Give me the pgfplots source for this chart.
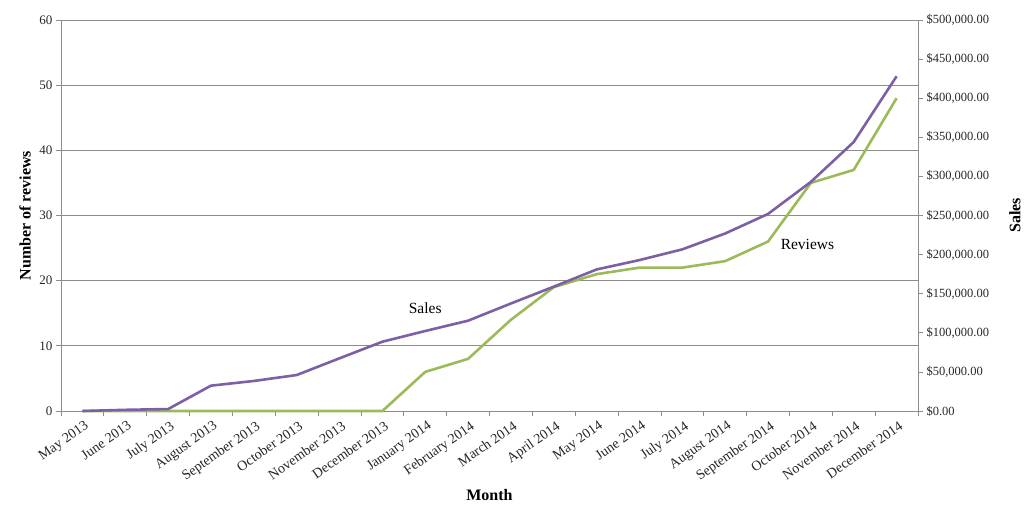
\documentclass[border=0pt]{standalone}
\usepackage{fontspec}
\setmainfont{Liberation Serif}
\usepackage{pgfplots}
\pgfplotsset{compat=1.18}

\definecolor{salespurple}{HTML}{7D5FA5}
\definecolor{revgreen}{HTML}{9BBB59}
\definecolor{gridgray}{HTML}{8C8C8C}

\pgfplotstableread{
idx reviews sales
0  0  0
1  0  1500
2  0  2500
3  0  32400
4  0  38400
5  0  46000
6  0  67400
7  0  88600
8  6  102300
9  8  115500
10 14 137500
11 19 159000
12 21 181000
13 22 193000
14 22 206700
15 23 227000
16 26 252000
17 35 293000
18 37 344000
19 48 428000
}\datatable

\begin{document}
\begin{tikzpicture}
\begin{axis}[
  scale only axis, width=857pt, height=391pt,
  xmin=-0.5, xmax=19.5, ymin=0, ymax=60,
  ytick={0,10,...,60},
  xtick={0,...,19},
  xticklabels={May 2013, June 2013, July 2013, August 2013, September 2013, October 2013, November 2013, December 2013, January 2014, February 2014, March 2014, April 2014, May 2014, June 2014, July 2014, August 2014, September 2014, October 2014, November 2014, December 2014},
  minor xtick={-0.5,0.5,...,19.5},
  major x tick style={draw=none},
  minor x tick style={gridgray, line width=0.8pt},
  ytick style={gridgray, line width=0.8pt},
  axis x line*=bottom, axis y line*=left,
  axis line style={gridgray, line width=0.8pt},
  ymajorgrids, grid style={gridgray, line width=0.8pt},
  tick align=outside,
  major tick length=5pt, minor tick length=5pt,
  /pgf/number format/assume math mode=true,
  yticklabel style={font=\fontsize{13}{15}\selectfont, text=black!85},
  xticklabel style={font=\fontsize{14}{16}\selectfont, text=black!85, rotate=35, anchor=north east, inner sep=1pt, yshift=-3pt},
  clip=false,
]
\addplot[revgreen, line width=2.6pt] table[x=idx, y=reviews] {\datatable};
\coordinate (SW) at (rel axis cs:0,0);
\node[font=\fontsize{15.5}{17}\selectfont] at (axis cs:8,15.8) {Sales};
\node[font=\fontsize{15.5}{17}\selectfont] at (axis cs:16.92,25.5) {Reviews};
\node[font=\bfseries\fontsize{16}{18}\selectfont, rotate=90] at ([xshift=-36pt]rel axis cs:0,0.5) {Number of reviews};
\node[font=\bfseries\fontsize{16}{18}\selectfont] at ([yshift=-84pt]rel axis cs:0.5,0) {Month};
\node[font=\bfseries\fontsize{16}{18}\selectfont, rotate=90] at ([xshift=97pt]rel axis cs:1,0.5) {Sales};
\end{axis}
\begin{axis}[
  scale only axis, width=857pt, height=391pt,
  xmin=-0.5, xmax=19.5, ymin=0, ymax=500000,
  axis y line*=right, axis x line=none,
  ytick={0,50000,...,500000},
  yticklabels={{\$0.00},{\$50,000.00},{\$100,000.00},{\$150,000.00},{\$200,000.00},{\$250,000.00},{\$300,000.00},{\$350,000.00},{\$400,000.00},{\$450,000.00},{\$500,000.00}},
  scaled y ticks=false,
  axis line style={gridgray, line width=0.8pt},
  ytick style={gridgray, line width=0.8pt},
  tick align=outside, major tick length=5pt,
  yticklabel style={font=\fontsize{12.5}{15}\selectfont, text=black!85},
  clip=false,
]
\addplot[salespurple, line width=2.6pt] table[x=idx, y=sales] {\datatable};
\end{axis}
\pgfresetboundingbox
\path[use as bounding box] ([shift={(-61pt,-93pt)}]SW) rectangle ([shift={(964pt,411pt)}]SW);
\end{tikzpicture}
\end{document}
